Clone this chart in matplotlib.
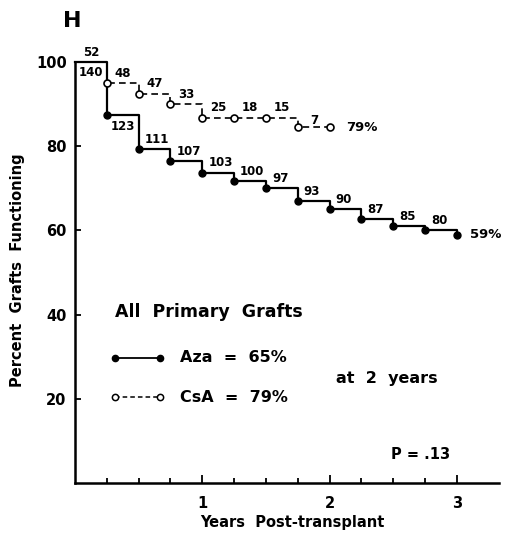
import numpy as np
import matplotlib
matplotlib.use('Agg')
import matplotlib.pyplot as plt

# graft survival (percent functioning)
years = [0, 0.25, 0.5, 0.75, 1.0, 1.25, 1.5, 1.75, 2.0, 2.25, 2.5, 2.75, 3.0]
aza_pct = [100, 87.4, 79.3, 76.4, 73.7, 71.7, 70.0, 66.9, 65.0, 62.6, 61.0, 60.0, 59.0]
aza_n = [140, 123, 111, 107, 103, 100, 97, 93, 90, 87, 85, 80]

csa_years = years[:9]
csa_pct = [100, 95.0, 92.4, 90.0, 86.7, 86.7, 86.7, 84.5, 84.5]
csa_n = [52, 48, 47, 33, 25, 18, 15, 7]

y_ticks = [20, 40, 60, 80, 100]
x_ticks = [1, 2, 3]
x_minor = [0.25, 0.5, 0.75, 1.25, 1.5, 1.75, 2.25, 2.5, 2.75]

plt.rcParams['font.family'] = ['DejaVu Sans']
plt.rcParams['font.weight'] = 'bold'

fig = plt.figure(figsize=(5.07, 5.38), dpi=100)
ax = fig.add_axes([75 / 507, 55 / 538, 424 / 507, 421 / 538])

# Aza: solid line, filled dots
ax.step(years, aza_pct, where='post', color='black', lw=1.6, clip_on=False, zorder=3)
ax.plot(years[1:], aza_pct[1:], 'o', ms=5, color='black', clip_on=False, zorder=5)

# CsA: dashed line, open dots
ax.step(csa_years, csa_pct, where='post', color='black', lw=1.2,
        ls=(0, (4, 2.5)), clip_on=False, zorder=4)
ax.plot(csa_years[1:], csa_pct[1:], 'o', ms=5, mfc='white', mec='black',
        mew=1.2, clip_on=False, zorder=6)

# numbers at risk
lab = dict(textcoords='offset pixels', fontsize=8.5, fontweight='bold', va='center')
for i, n in enumerate(aza_n):
    if i == 0:
        ax.annotate(str(n), ((years[0] + years[1]) / 2, aza_pct[0]), xytext=(0, -11), ha='center', **lab)
    elif i == 1:
        ax.annotate(str(n), (years[i], aza_pct[i]), xytext=(4, -11), ha='left', **lab)
    else:
        ax.annotate(str(n), (years[i], aza_pct[i]), xytext=(6, 10), ha='left', **lab)
for i, n in enumerate(csa_n):
    if i == 0:
        ax.annotate(str(n), ((csa_years[0] + csa_years[1]) / 2, csa_pct[0]), xytext=(0, 10), ha='center', **lab)
    elif n == csa_n[-1]:
        ax.annotate(str(n), (csa_years[i], csa_pct[i]), xytext=(12, 7), ha='left', **lab)
    else:
        ax.annotate(str(n), (csa_years[i], csa_pct[i]), xytext=(8, 10), ha='left', **lab)

ax.annotate('59%', (years[-1], aza_pct[-1]), xytext=(13, 0), textcoords='offset pixels',
            fontsize=9.5, fontweight='bold', va='center', ha='left')
ax.annotate('79%', (csa_years[-1], csa_pct[-1]), xytext=(16, 0), textcoords='offset pixels',
            fontsize=9.5, fontweight='bold', va='center', ha='left')

# axes styling
ax.set_xlim(0, 3.33)
ax.set_ylim(0, 100)
for s in ['top', 'right']:
    ax.spines[s].set_visible(False)
for s in ['left', 'bottom']:
    ax.spines[s].set_linewidth(1.8)
ax.set_yticks(y_ticks)
ax.set_xticks(x_ticks)
ax.set_xticks(x_minor, minor=True)
ax.tick_params(axis='y', direction='in', length=4, width=1.3, pad=6, labelsize=10.5)
ax.tick_params(axis='x', which='major', direction='in', length=6, width=1.3, pad=9, labelsize=10.5)
ax.tick_params(axis='x', which='minor', direction='in', length=3.5, width=1.3)

# legend block
ax.text(0.094, 0.406, 'All  Primary  Grafts', transform=ax.transAxes, fontsize=12.5,
        fontweight='bold', va='center', ha='left')
ax.plot([0.094, 0.200], [0.297, 0.297], '-', color='black', lw=1.3, marker='o', ms=4.5,
        transform=ax.transAxes, clip_on=False)
ax.plot([0.094, 0.200], [0.204, 0.204], color='black', lw=1.1, ls=(0, (3, 2)), marker='o',
        ms=4.5, mfc='white', mew=1.1, transform=ax.transAxes, clip_on=False)
ax.text(0.248, 0.297, 'Aza  =  65%', transform=ax.transAxes, fontsize=11.5,
        fontweight='bold', va='center', ha='left')
ax.text(0.248, 0.204, 'CsA  =  79%', transform=ax.transAxes, fontsize=11.5,
        fontweight='bold', va='center', ha='left')
ax.text(0.616, 0.249, 'at  2  years', transform=ax.transAxes, fontsize=11.5,
        fontweight='bold', va='center', ha='left')
ax.text(0.745, 0.067, 'P = .13', transform=ax.transAxes, fontsize=10.5,
        fontweight='bold', va='center', ha='left')

fig.text(72 / 507, 1 - 21 / 538, 'H', fontsize=16, fontweight='bold', ha='center', va='center')
fig.text(18 / 507, 1 - 270 / 538, 'Percent  Grafts  Functioning', rotation=90,
         fontsize=10.5, fontweight='bold', ha='center', va='center')
fig.text(292 / 507, 1 - 522 / 538, 'Years  Post-transplant', fontsize=10.5,
         fontweight='bold', ha='center', va='center')

fig.savefig('out.png', dpi=100)
